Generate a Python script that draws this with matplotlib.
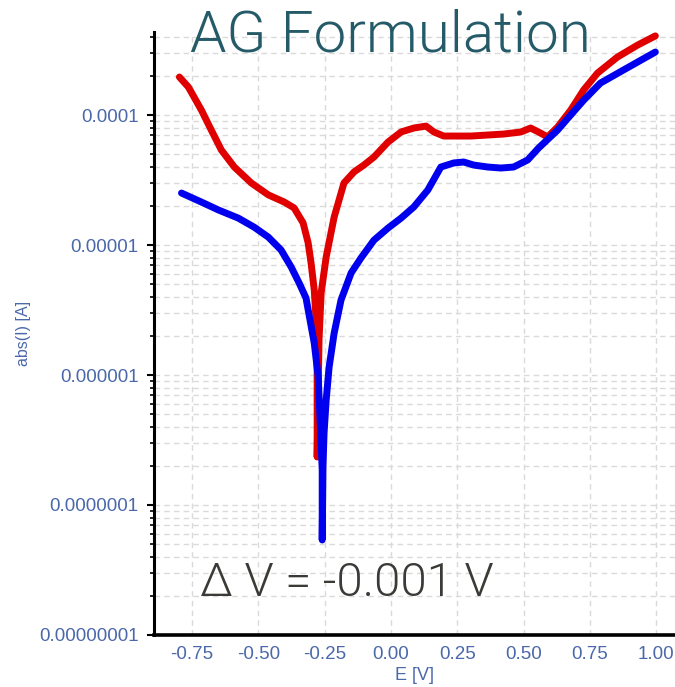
import numpy as np
import matplotlib
matplotlib.use("Agg")
import matplotlib.pyplot as plt
from matplotlib.ticker import LogLocator, FixedLocator, FuncFormatter, NullFormatter

# red curve (E in V, |I| in A)
red_E = [-0.797, -0.763, -0.714, -0.677, -0.639, -0.590, -0.526, -0.462, -0.402, -0.365,
         -0.331, -0.312, -0.301, -0.289, -0.282, -0.278, -0.278,
         -0.271, -0.263, -0.244, -0.214, -0.177, -0.139, -0.102, -0.064, -0.011, 0.038,
         0.086, 0.132, 0.162, 0.199, 0.301, 0.425, 0.489, 0.526, 0.556, 0.590, 0.628,
         0.677, 0.726, 0.778, 0.853, 0.929, 0.996]
red_I = [1.96e-4, 1.64e-4, 1.09e-4, 7.67e-5, 5.38e-5, 3.98e-5, 3.00e-5, 2.43e-5, 2.14e-5, 1.93e-5,
         1.48e-5, 1.04e-5, 7.28e-6, 4.51e-6, 2.65e-6, 1.09e-6, 2.34e-7,
         1.86e-6, 4.28e-6, 8.09e-6, 1.64e-5, 3.00e-5, 3.65e-5, 4.12e-5, 4.75e-5, 6.19e-5, 7.40e-5,
         7.94e-5, 8.22e-5, 7.40e-5, 6.89e-5, 6.89e-5, 7.14e-5, 7.40e-5, 7.94e-5, 7.40e-5, 6.78e-5, 8.09e-5,
         1.09e-4, 1.56e-4, 2.10e-4, 2.79e-4, 3.45e-4, 4.06e-4]

# blue curve
blue_E = [-0.789, -0.714, -0.650, -0.575, -0.515, -0.462, -0.414, -0.376, -0.346, -0.320,
          -0.289, -0.274, -0.267, -0.259, -0.259,
          -0.256, -0.252, -0.244, -0.233, -0.214, -0.188, -0.150, -0.113, -0.064, -0.011,
          0.038, 0.086, 0.139, 0.188, 0.237, 0.274, 0.312, 0.365, 0.414, 0.462, 0.515,
          0.556, 0.628, 0.677, 0.726, 0.789, 0.876, 0.996]
blue_I = [2.51e-5, 2.14e-5, 1.86e-5, 1.61e-5, 1.37e-5, 1.15e-5, 9.16e-6, 6.78e-6, 5.11e-6, 3.91e-6,
          1.76e-6, 9.66e-7, 4.51e-7, 1.86e-7, 5.38e-8,
          1.96e-7, 3.58e-7, 6.43e-7, 1.15e-6, 2.10e-6, 3.78e-6, 6.10e-6, 7.94e-6, 1.09e-5, 1.35e-5,
          1.61e-5, 1.96e-5, 2.65e-5, 3.98e-5, 4.28e-5, 4.35e-5, 4.12e-5, 3.98e-5, 3.91e-5, 3.98e-5, 4.51e-5,
          5.57e-5, 7.67e-5, 1.00e-4, 1.30e-4, 1.76e-4, 2.22e-4, 3.05e-4]

x_ticks = [-0.75, -0.50, -0.25, 0.00, 0.25, 0.50, 0.75, 1.00]
y_ticks = [1e-8, 1e-7, 1e-6, 1e-5, 1e-4]
y_labels = ["0.00000001", "0.0000001", "0.000001", "0.00001", "0.0001"]

title = "AG Formulation"
note = "\u0394 V = -0.001 V"

lab_col = "#4a68aa"
lab_font = ["Liberation Sans Narrow", "Liberation Sans", "DejaVu Sans"]

fig = plt.figure(figsize=(6.75, 6.87), dpi=100)
ax = fig.add_axes([0.228, 0.0757, 0.772, 0.8777])

ax.plot(red_E, red_I, color="#e00000", lw=5, solid_capstyle="round", solid_joinstyle="round", zorder=3)
ax.plot(blue_E, blue_I, color="#0000ee", lw=5, solid_capstyle="round", solid_joinstyle="round", zorder=4)

ax.set_yscale("log")
ax.set_xlim(-0.893, 1.07)
ax.set_ylim(1e-8, 4.35e-4)

ax.xaxis.set_major_locator(FixedLocator(x_ticks))
ax.xaxis.set_major_formatter(FuncFormatter(lambda v, p: "%.2f" % v))
ax.yaxis.set_major_locator(FixedLocator(y_ticks))
ax.set_yticklabels(y_labels)
ax.yaxis.set_minor_locator(LogLocator(base=10, subs=np.arange(2, 10), numticks=20))
ax.yaxis.set_minor_formatter(NullFormatter())

for s in ["top", "right"]:
    ax.spines[s].set_visible(False)
ax.spines["left"].set_linewidth(2.2)
ax.spines["bottom"].set_linewidth(2.6)
ax.spines["left"].set_color("black")
ax.spines["bottom"].set_color("black")

ax.grid(True, which="major", color="#dadada", linestyle=(0, (4, 3)), lw=1)
ax.grid(True, which="minor", axis="y", color="#dadada", linestyle=(0, (4, 3)), lw=1)
ax.set_axisbelow(True)

ax.tick_params(axis="y", which="major", length=5, width=1.5, color="black", pad=6)
ax.tick_params(axis="y", which="minor", length=3, width=1.2, color="black")
ax.tick_params(axis="x", which="major", length=0, pad=8)
for lbl in ax.get_xticklabels() + ax.get_yticklabels():
    lbl.set_family(lab_font)
    lbl.set_fontsize(13.5)
    lbl.set_color(lab_col)

ax.set_xlabel("E [V]", family=lab_font, fontsize=13, color=lab_col, labelpad=3)
ax.set_ylabel("abs(I) [A]", family=lab_font, fontsize=11.5, color=lab_col)
ax.yaxis.set_label_coords(-0.236, 0.5)

fig.text(390 / 675, 1 - 52 / 687, title, ha="center", va="baseline",
         fontsize=42, color="#255b68", family=["Roboto", "DejaVu Sans"], weight=300, zorder=10)
fig.text(200 / 675, 1 - 596 / 687, note, ha="left", va="baseline",
         fontsize=34, color="#3b3a36", family=["Roboto", "DejaVu Sans"], weight=300, zorder=10)

fig.savefig("out.png", dpi=100)
